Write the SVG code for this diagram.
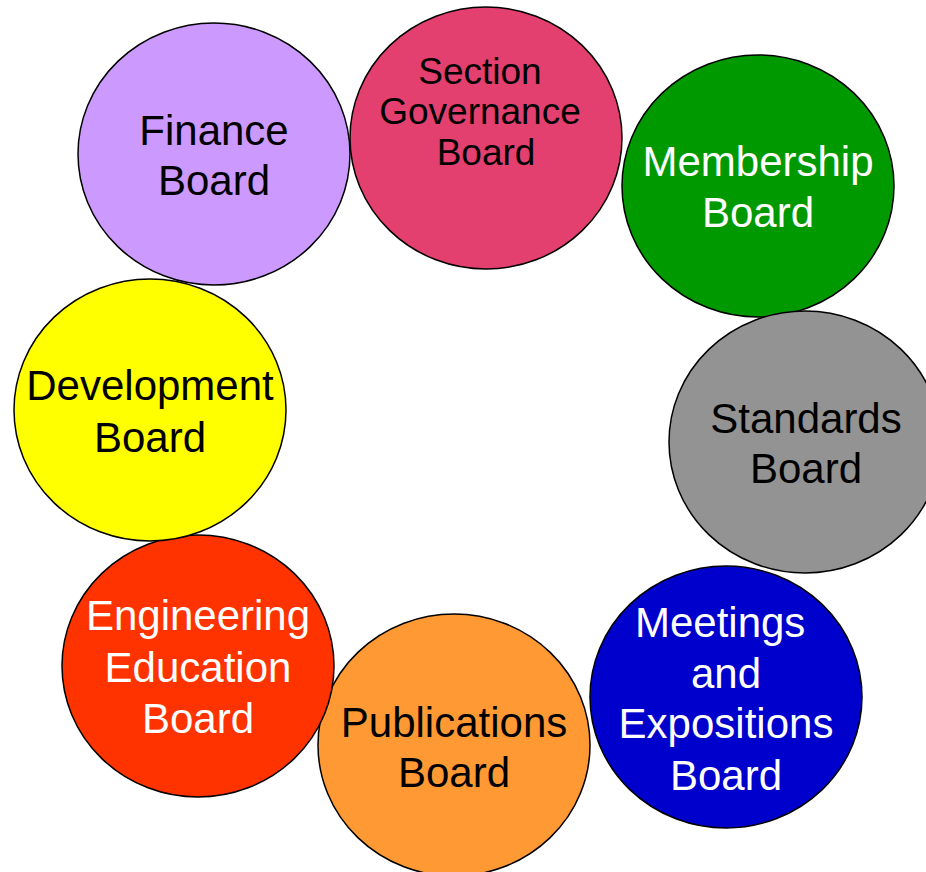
<svg xmlns="http://www.w3.org/2000/svg" width="926" height="872" viewBox="0 0 926 872">
<style>
.c{stroke:#000;stroke-width:1.5}
text{font-family:"Liberation Sans",Arial,sans-serif;font-size:42px;text-anchor:middle}
.w{fill:#fff}.k{fill:#000}
.s{font-size:37px}
</style>
<rect width="926" height="872" fill="#fff"/>
<g id="connectors"/>
<g id="finance"><ellipse class="c" cx="214" cy="154" rx="136" ry="131" fill="#CC99FF"/>
<text class="k" x="214" y="145">Finance</text><text class="k" x="214" y="195">Board</text></g>
<g id="section-governance"><ellipse class="c" cx="486" cy="138" rx="136" ry="131" fill="#E3406F"/>
<text class="k s" x="480" y="84">Section</text><text class="k s" x="480" y="124">Governance</text><text class="k s" x="486" y="165">Board</text></g>
<g id="membership"><ellipse class="c" cx="758" cy="186" rx="136" ry="131" fill="#009900"/>
<text class="w" x="758" y="176">Membership</text><text class="w" x="758" y="227">Board</text></g>
<g id="standards"><ellipse class="c" cx="805" cy="442" rx="136" ry="131" fill="#939393"/>
<text class="k" x="806" y="433">Standards</text><text class="k" x="806" y="483">Board</text></g>
<g id="meetings"><ellipse class="c" cx="726" cy="697" rx="136" ry="131" fill="#0000CC"/>
<text class="w" x="726" y="637" xml:space="preserve">Meetings </text><text class="w" x="726" y="688">and</text><text class="w" x="726" y="738">Expositions</text><text class="w" x="726" y="790">Board</text></g>
<g id="publications"><ellipse class="c" cx="454" cy="745" rx="136" ry="131" fill="#FF9933"/>
<text class="k" x="454" y="737">Publications</text><text class="k" x="454" y="787">Board</text></g>
<g id="engineering-education"><ellipse class="c" cx="198" cy="666" rx="136" ry="131" fill="#FF3300"/>
<text class="w" x="198" y="630">Engineering</text><text class="w" x="198" y="682">Education</text><text class="w" x="198" y="733">Board</text></g>
<g id="development"><ellipse class="c" cx="150" cy="410" rx="136" ry="131" fill="#FFFF00"/>
<text class="k" x="150" y="400">Development</text><text class="k" x="150" y="452">Board</text></g>
</svg>
